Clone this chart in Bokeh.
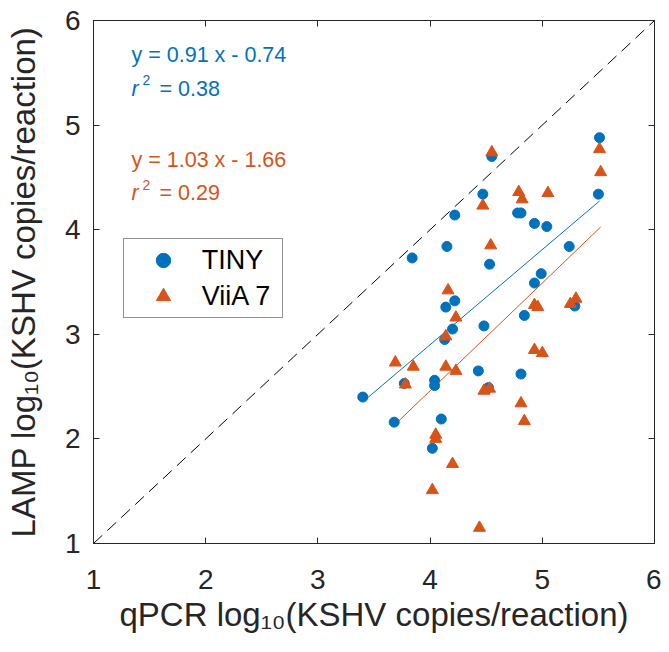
import math
from bokeh.plotting import figure
from bokeh.models import Range1d, FixedTicker, LinearAxis, Label, Legend, LegendItem
from bokeh.embed import file_html
from bokeh.resources import INLINE

# ---------------- data ----------------
tiny_qpcr = [5.51, 4.55, 4.47, 5.50, 4.22, 4.78, 4.81, 4.93, 5.04, 4.15, 3.84, 5.24,
             4.53, 4.99, 4.93, 4.22, 4.14, 5.29, 4.84, 4.20, 4.48, 4.13, 4.43, 4.81,
             3.77, 4.04, 4.04, 4.52, 3.40, 3.68, 4.10, 4.02]
tiny_lamp = [4.88, 4.70, 4.34, 4.34, 4.14, 4.16, 4.16, 4.06, 4.03, 3.84, 3.73, 3.84,
             3.67, 3.58, 3.49, 3.32, 3.26, 3.27, 3.18, 3.05, 3.08, 2.95, 2.65, 2.62,
             2.53, 2.56, 2.51, 2.49, 2.40, 2.16, 2.19, 1.91]
viia_qpcr = [4.55, 5.51, 5.52, 4.79, 4.82, 5.05, 4.47, 4.54, 4.16, 4.93, 4.96, 5.25,
             5.30, 4.23, 4.14, 4.93, 5.00, 3.69, 3.85, 4.14, 4.23, 3.78, 4.48, 4.53,
             4.81, 4.84, 4.05, 4.05, 4.20, 4.02, 4.44]
viia_lamp = [4.74, 4.77, 4.55, 4.36, 4.29, 4.35, 4.23, 3.85, 3.42, 3.28, 3.26, 3.29,
             3.34, 3.16, 2.98, 2.85, 2.82, 2.73, 2.69, 2.69, 2.65, 2.52, 2.46, 2.48,
             2.34, 2.17, 2.04, 2.00, 1.76, 1.51, 1.15]
tiny_fit = (0.91, -0.74)
viia_fit = (1.03, -1.66)
tiny_r2 = 0.38
viia_r2 = 0.29
ticks = [1, 2, 3, 4, 5, 6]
identity = [1, 6]
series_names = ["TINY", "ViiA 7"]
x_title = "qPCR log\u2081\u2080(KSHV copies/reaction)"
y_title = "LAMP log\u2081\u2080(KSHV copies/reaction)"

# ---------------- style ----------------
BLUE = "#0072BD"
ORANGE = "#D95319"
AX = "#262626"
FONT = "Liberation Sans"

W, H = 661, 636
BL, BR, BT, BB = 93, 7, 20, 93
FW = W - BL - BR
FH = H - BT - BB
X0 = BL                    # picture px of x=1
Y0 = BT + FH               # picture px of y=1
XS = FW / 5.0
YS = FH / 5.0


def px2x(px):
    return 1 + (px - X0) / XS


def py2y(py):
    return 1 + (Y0 - py) / YS


p = figure(width=W, height=H, x_range=Range1d(1, 6), y_range=Range1d(1, 6),
           output_backend="svg", toolbar_location=None,
           min_border_left=BL, min_border_right=BR, min_border_top=BT, min_border_bottom=BB)
p.background_fill_color = "white"
p.border_fill_color = "white"
p.outline_line_color = AX
p.outline_line_width = 1
p.xgrid.visible = False
p.ygrid.visible = False


def style_axis(ax, show_labels, standoff):
    ax.ticker = FixedTicker(ticks=ticks)
    ax.major_tick_in = 6
    ax.major_tick_out = 0
    ax.minor_tick_in = 0
    ax.minor_tick_out = 0
    ax.axis_line_color = AX
    ax.major_tick_line_color = AX
    ax.major_label_text_color = AX
    ax.major_label_text_font = FONT
    ax.major_label_text_font_size = "28px"
    ax.major_label_standoff = standoff
    ax.axis_label_text_font = FONT
    ax.axis_label_text_font_size = "33px"
    ax.axis_label_text_font_style = "normal"
    ax.axis_label_text_color = AX
    if not show_labels:
        ax.major_label_overrides = {t: "" for t in ticks}
        ax.major_label_standoff = 0


style_axis(p.xaxis[0], True, 26)
style_axis(p.yaxis[0], True, 13)
p.xaxis[0].axis_label = x_title
p.yaxis[0].axis_label = y_title
p.xaxis[0].axis_label_standoff = 4
p.yaxis[0].axis_label_standoff = 20

top_ax = LinearAxis()
right_ax = LinearAxis()
p.add_layout(top_ax, "above")
p.add_layout(right_ax, "right")
style_axis(top_ax, False, 0)
style_axis(right_ax, False, 0)

# identity line
p.line(identity, identity, line_color="black", line_width=1, line_dash="12 7")

# fit lines
for qx, (m, b), col in [(tiny_qpcr, tiny_fit, BLUE), (viia_qpcr, viia_fit, ORANGE)]:
    xs = [min(qx), max(qx)]
    ys = [m * x + b for x in xs]
    p.line(xs, ys, line_color=col, line_width=1)

r_tiny = p.scatter(tiny_qpcr, tiny_lamp, marker="circle", size=10,
                   fill_color=BLUE, line_color=BLUE)
r_viia = p.scatter(viia_qpcr, viia_lamp, marker="triangle", size=12,
                   fill_color=ORANGE, line_color=ORANGE)

legend = Legend(items=[LegendItem(label=series_names[0], renderers=[r_tiny]),
                       LegendItem(label=series_names[1], renderers=[r_viia])],
                location=(122.7 - X0, Y0 - 318.3))
legend.label_text_font = FONT
legend.label_text_font_size = "27px"
legend.label_text_color = "black"
legend.border_line_color = AX
legend.border_line_width = 1
legend.background_fill_alpha = 1
legend.padding = 3
legend.spacing = 0
legend.margin = 0
legend.glyph_width = 72
legend.glyph_height = 36
legend.label_height = 36
legend.label_width = 77
legend.label_standoff = 3
p.add_layout(legend)


def lab(text, px, py, size, color, style="normal", angle=0.0):
    p.add_layout(Label(x=px2x(px), y=py2y(py), text=text, text_font=FONT,
                       text_font_size=f"{size}px", text_color=color,
                       text_font_style=style, angle=angle,
                       text_align="left", text_baseline="alphabetic"))


# fit annotations
for (m, b), r2, col, y_eq, y_r in [(tiny_fit, tiny_r2, BLUE, 54.3, 88.3),
                                   (viia_fit, viia_r2, ORANGE, 159.3, 192.7)]:
    sign = "-" if b < 0 else "+"
    lab(f"y = {m:.2f} x {sign} {abs(b):.2f}", 131, y_eq, 21.5, col)
    lab("r", 131, y_r, 21.5, col, style="italic")
    lab("2", 142, y_r - 8.5, 14, col)
    lab(f"= {r2:.2f}", 159, y_r, 21.5, col)

open("out.html", "w").write(file_html(p, INLINE))
